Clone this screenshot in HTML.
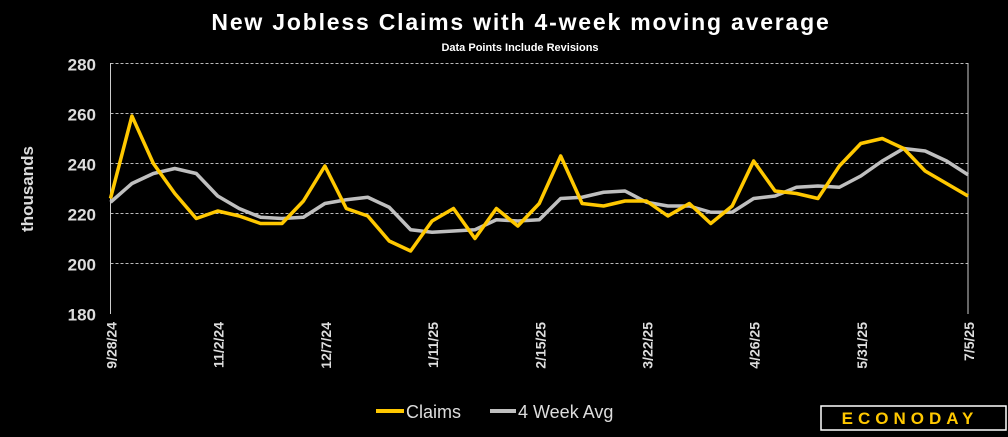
<!DOCTYPE html>
<html><head><meta charset="utf-8"><style>
body{margin:0;background:#000;width:1008px;height:432px;overflow:hidden;font-family:"Liberation Sans",sans-serif}
</style></head><body>
<svg width="1008" height="432">
<text x="521" y="30" fill="#fff" font-size="23" font-weight="bold" letter-spacing="1.8" text-anchor="middle">New Jobless Claims with 4-week moving average</text>
<text x="520" y="51" fill="#fff" font-size="11" font-weight="bold" text-anchor="middle">Data Points Include Revisions</text>
<text transform="translate(33,189) rotate(-90)" fill="#ddd" font-size="17" font-weight="bold" text-anchor="middle">thousands</text>
<g id="grid"></g><g id="yt"></g><g id="xt"></g>
<line x1="110.5" y1="63" x2="110.5" y2="314" stroke="#ccc"/>
<line x1="968" y1="63" x2="968" y2="314" stroke="#ccc"/>
<polyline id="avg" fill="none" stroke="#bfbfbf" stroke-width="3.5" stroke-linejoin="round"/>
<polyline id="claims" fill="none" stroke="#ffc800" stroke-width="3.5" stroke-linejoin="round"/>
<g>
<line x1="376" y1="411" x2="404" y2="411" stroke="#ffc800" stroke-width="4"/>
<text x="406" y="418" fill="#ddd" font-size="18">Claims</text>
<line x1="490" y1="411" x2="516" y2="411" stroke="#bfbfbf" stroke-width="4"/>
<text x="518" y="418" fill="#ddd" font-size="18">4 Week Avg</text>
</g>
<rect x="821" y="406" width="185" height="24" fill="#000" stroke="#fff" stroke-width="1.5"/>
<text x="910" y="424" fill="#ffc800" font-size="17" font-weight="bold" letter-spacing="5" text-anchor="middle">ECONODAY</text>
</svg>
<script>
const claims=[226,259,240,228,218,221,219,216,216,225,239,222,219,209,205,217,222,210,222,215,224,243,224,223,225,225,219,224,216,223,241,229,228,226,239,248,250,246,237,232,227];
const avg=[224.5,232,236,238,236,227,222,218.5,218,218.5,224,225.5,226.5,222.5,213.5,212.5,213,213.5,217.5,217,217.5,226,226.5,228.5,229,224.5,223,223,220.5,220.5,226,227,230.5,231,230.5,235,241,246,245,241,235.5];
const yTicks=[180,200,220,240,260,280];
const xLabels=[[0,'9/28/24'],[5,'11/2/24'],[10,'12/7/24'],[15,'1/11/25'],[20,'2/15/25'],[25,'3/22/25'],[30,'4/26/25'],[35,'5/31/25'],[40,'7/5/25']];
const NS='http://www.w3.org/2000/svg';
const X=i=>110.5+i*(968-110.5)/(claims.length-1);
const Y=v=>313.5-(v-180)*2.5;
function mk(t,a,p){const e=document.createElementNS(NS,t);for(const k in a)e.setAttribute(k,a[k]);document.getElementById(p).appendChild(e);return e;}
yTicks.forEach(v=>{
 if(v>180){const l=mk('line',{x1:110.5,x2:968,y1:Y(v),y2:Y(v),stroke:'#bbb','stroke-dasharray':'3,2'},'grid');
 
 }
 const t=mk('text',{x:96,y:Y(v)+7,fill:'#ddd','font-size':'17','font-weight':'bold','text-anchor':'end'},'yt');t.textContent=v;
 
 
});
xLabels.forEach(([i,s])=>{
 const t=mk('text',{transform:`translate(${X(i)+6},322) rotate(-90)`,fill:'#ddd','font-size':'14','font-weight':'bold','text-anchor':'end'},'xt');t.textContent=s;
 
 
});
document.getElementById('claims').setAttribute('points',claims.map((v,i)=>X(i)+','+Y(v)).join(' '));
document.getElementById('avg').setAttribute('points',avg.map((v,i)=>X(i)+','+Y(v)).join(' '));
</script>
</body></html>
